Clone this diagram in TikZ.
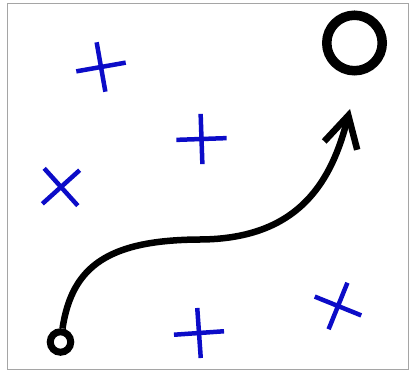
\documentclass[tikz,border=0pt]{standalone}
\usetikzlibrary{
    arrows.meta,
    shapes.misc
}
\definecolor{ink}{RGB}{0,0,0}
\definecolor{hazardblue}{RGB}{12,12,200}
\definecolor{framegray}{RGB}{165,165,165}
\tikzset{
    waypoint/.style={
        circle,
        draw=ink,
        inner sep=0pt
    },
    startpt/.style={waypoint, line width=7pt, minimum size=20.5pt},
    goalpt/.style={waypoint, line width=9.5pt, minimum size=55.5pt},
    hazard/.style={
        cross out,
        draw=hazardblue,
        line width=4.5pt,
        minimum size=31pt,
        inner sep=0pt
    },
    route/.style={
        draw=ink,
        line width=6.5pt,
        -{Straight Barb[length=31pt, width=34pt, sharp]}
    }
}

\begin{document}
\begin{tikzpicture}[x=1pt, y=-1pt]
\useasboundingbox (0,0) rectangle (409,371);

% --- Frame ---
\draw[framegray, line width=1pt] (7.5,3.5) rectangle (408.5,369.5);

% --- Start and goal ---
\node[startpt] (start) at (60.5,342) {};
\node[goalpt] (goal) at (354.5,43) {};

% --- Obstacles ---
\node[hazard, rotate=55] (hazard1) at (101,67) {};
\node[hazard, rotate=47] (hazard2) at (201.5,139) {};
\node[hazard, rotate=-3] (hazard3) at (61,187) {};
\node[hazard, rotate=49] (hazard4) at (199,333) {};
\node[hazard, rotate=23] (hazard5) at (338,306) {};

% --- Route ---
\coordinate (bend) at (200,239.5);
\coordinate (tip) at (350,109);
\draw[route] (start) .. controls (72,265) and (110,240) .. (bend)
    .. controls (300,239) and (332,180) .. (tip);

\end{tikzpicture}
\end{document}
